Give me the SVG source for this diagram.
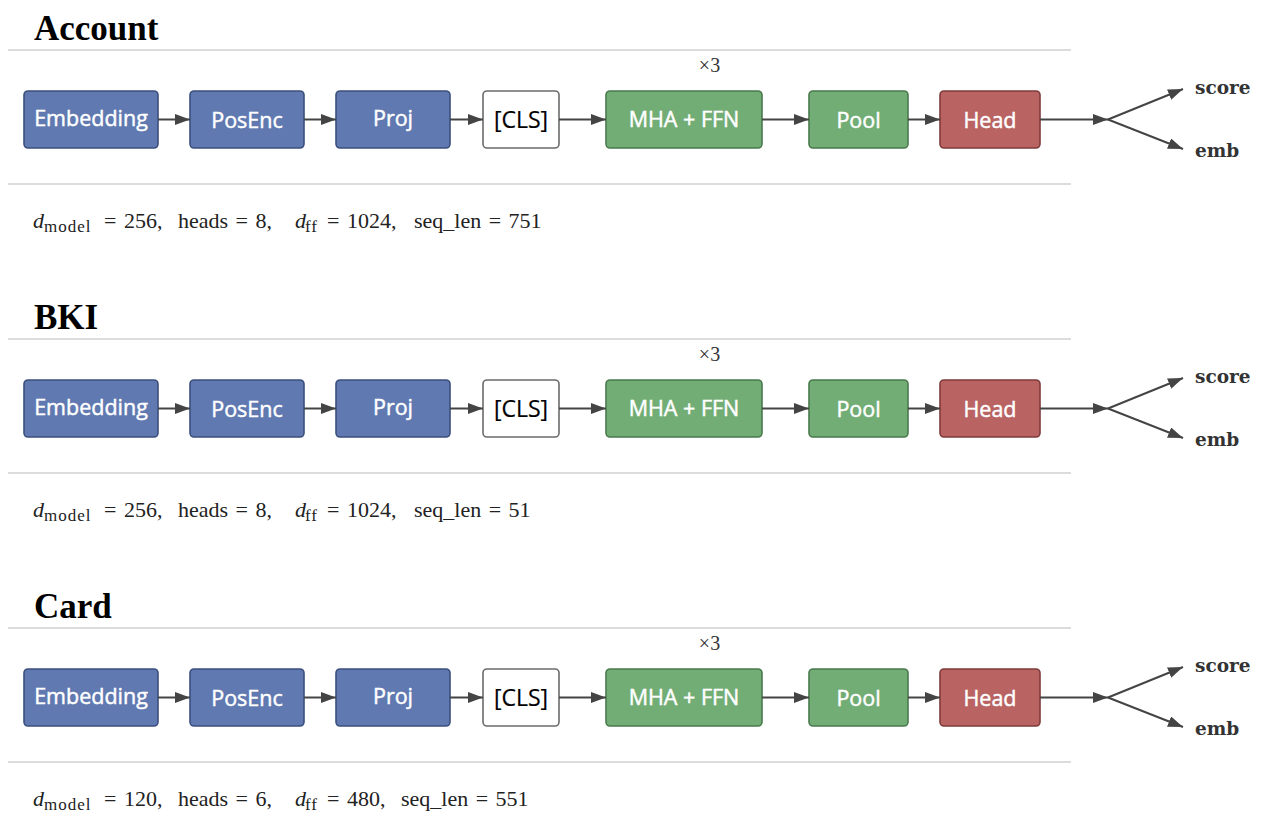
<svg xmlns="http://www.w3.org/2000/svg" width="1268" height="828" viewBox="0 0 1268 828">
<style>
.title{font-family:"Liberation Serif",serif;font-weight:bold;font-size:35px;fill:#000}
.rule{stroke:#dcdcdc;stroke-width:2;fill:none}
.box{stroke-width:1.6}
.blue{fill:#6079b1;stroke:#3b4f7e}
.green{fill:#72ad76;stroke:#4a7a4e}
.red{fill:#b96363;stroke:#7f3b3b}
.white{fill:#fff;stroke:#6b6b6b}
.lbl{font-family:"Open Sans","Noto Sans",sans-serif;font-size:21.5px;fill:#fff;stroke:#fff;stroke-width:0.45px;text-anchor:middle}
.lblk{fill:#000;stroke:#000;stroke-width:0.2px;font-size:23px}
.conn{stroke:#444;stroke-width:2;fill:none;marker-end:url(#ah)}
.out{font-family:"DejaVu Serif",serif;font-weight:bold;font-size:18.5px;fill:#333}
.math{font-family:"Liberation Serif",serif;font-size:22px;fill:#222;word-spacing:2px}
.it{font-style:italic}
.sub{font-size:17px;letter-spacing:1px;word-spacing:0}
.rep{font-family:"Liberation Serif",serif;font-size:20px;fill:#333;text-anchor:middle}
</style>
<defs>
<marker id="ah" viewBox="0 0 15 11" refX="15" refY="5.5" markerWidth="15" markerHeight="11" markerUnits="userSpaceOnUse" orient="auto">
<path d="M0,0 L15,5.5 L0,11 z" fill="#444"/>
</marker>
<g id="section">
<line class="rule" x1="8" y1="50" x2="1071" y2="50"/>
<line class="rule" x1="8" y1="184" x2="1071" y2="184"/>
<text class="rep" x="709.5" y="72">×3</text>
</g>
</defs>

<!-- Section 1: Account -->
<g id="account" transform="translate(0,0)">
<text class="title" x="34" y="40">Account</text>
<use href="#section"/>
<g id="acc-embedding"><rect class="box blue" x="24" y="91" width="134" height="57" rx="4"/><text class="lbl" x="91" y="126">Embedding</text></g>
<g id="acc-posenc"><rect class="box blue" x="190" y="91" width="114" height="57" rx="4"/><text class="lbl" x="247" y="128">PosEnc</text></g>
<g id="acc-proj"><rect class="box blue" x="336" y="91" width="114" height="57" rx="4"/><text class="lbl" x="393" y="126">Proj</text></g>
<g id="acc-cls"><rect class="box white" x="483" y="91" width="76" height="57" rx="4"/><text class="lbl lblk" x="521" y="128">[CLS]</text></g>
<g id="acc-mha"><rect class="box green" x="606" y="91" width="156" height="57" rx="4"/><text class="lbl" x="684" y="127">MHA + FFN</text></g>
<g id="acc-pool"><rect class="box green" x="809" y="91" width="99" height="57" rx="4"/><text class="lbl" x="858.5" y="128">Pool</text></g>
<g id="acc-head"><rect class="box red" x="940" y="91" width="100" height="57" rx="4"/><text class="lbl" x="990" y="128">Head</text></g>
<g id="acc-connectors">
<line class="conn" x1="158" y1="119.5" x2="190" y2="119.5"/>
<line class="conn" x1="304" y1="119.5" x2="336" y2="119.5"/>
<line class="conn" x1="450" y1="119.5" x2="483" y2="119.5"/>
<line class="conn" x1="559" y1="119.5" x2="606" y2="119.5"/>
<line class="conn" x1="762" y1="119.5" x2="809" y2="119.5"/>
<line class="conn" x1="908" y1="119.5" x2="940" y2="119.5"/>
<line class="conn" x1="1040" y1="119.5" x2="1108" y2="119.5"/>
<line class="conn" x1="1108" y1="119.5" x2="1183" y2="89"/>
<line class="conn" x1="1108" y1="119.5" x2="1183" y2="149"/>
</g>
<text class="out" x="1195" y="94">score</text>
<text class="out" x="1195" y="157">emb</text>
<text class="math" y="228"><tspan class="it" x="33">d</tspan><tspan class="sub" x="44" y="232">model</tspan><tspan x="104" y="228">= 256,</tspan><tspan x="178">heads = 8,</tspan><tspan class="it" x="295">d</tspan><tspan class="sub" x="305" y="232">ff</tspan><tspan x="327" y="228">= 1024,</tspan><tspan x="414">seq_len = 751</tspan></text>
</g>

<!-- Section 2: BKI -->
<g id="bki" transform="translate(0,289)">
<text class="title" x="34" y="40">BKI</text>
<use href="#section"/>
<g id="bki-embedding"><rect class="box blue" x="24" y="91" width="134" height="57" rx="4"/><text class="lbl" x="91" y="126">Embedding</text></g>
<g id="bki-posenc"><rect class="box blue" x="190" y="91" width="114" height="57" rx="4"/><text class="lbl" x="247" y="128">PosEnc</text></g>
<g id="bki-proj"><rect class="box blue" x="336" y="91" width="114" height="57" rx="4"/><text class="lbl" x="393" y="126">Proj</text></g>
<g id="bki-cls"><rect class="box white" x="483" y="91" width="76" height="57" rx="4"/><text class="lbl lblk" x="521" y="128">[CLS]</text></g>
<g id="bki-mha"><rect class="box green" x="606" y="91" width="156" height="57" rx="4"/><text class="lbl" x="684" y="127">MHA + FFN</text></g>
<g id="bki-pool"><rect class="box green" x="809" y="91" width="99" height="57" rx="4"/><text class="lbl" x="858.5" y="128">Pool</text></g>
<g id="bki-head"><rect class="box red" x="940" y="91" width="100" height="57" rx="4"/><text class="lbl" x="990" y="128">Head</text></g>
<g id="bki-connectors">
<line class="conn" x1="158" y1="119.5" x2="190" y2="119.5"/>
<line class="conn" x1="304" y1="119.5" x2="336" y2="119.5"/>
<line class="conn" x1="450" y1="119.5" x2="483" y2="119.5"/>
<line class="conn" x1="559" y1="119.5" x2="606" y2="119.5"/>
<line class="conn" x1="762" y1="119.5" x2="809" y2="119.5"/>
<line class="conn" x1="908" y1="119.5" x2="940" y2="119.5"/>
<line class="conn" x1="1040" y1="119.5" x2="1108" y2="119.5"/>
<line class="conn" x1="1108" y1="119.5" x2="1183" y2="89"/>
<line class="conn" x1="1108" y1="119.5" x2="1183" y2="149"/>
</g>
<text class="out" x="1195" y="94">score</text>
<text class="out" x="1195" y="157">emb</text>
<text class="math" y="228"><tspan class="it" x="33">d</tspan><tspan class="sub" x="44" y="232">model</tspan><tspan x="104" y="228">= 256,</tspan><tspan x="178">heads = 8,</tspan><tspan class="it" x="295">d</tspan><tspan class="sub" x="305" y="232">ff</tspan><tspan x="327" y="228">= 1024,</tspan><tspan x="414">seq_len = 51</tspan></text>
</g>

<!-- Section 3: Card -->
<g id="card" transform="translate(0,578)">
<text class="title" x="34" y="40">Card</text>
<use href="#section"/>
<g id="card-embedding"><rect class="box blue" x="24" y="91" width="134" height="57" rx="4"/><text class="lbl" x="91" y="126">Embedding</text></g>
<g id="card-posenc"><rect class="box blue" x="190" y="91" width="114" height="57" rx="4"/><text class="lbl" x="247" y="128">PosEnc</text></g>
<g id="card-proj"><rect class="box blue" x="336" y="91" width="114" height="57" rx="4"/><text class="lbl" x="393" y="126">Proj</text></g>
<g id="card-cls"><rect class="box white" x="483" y="91" width="76" height="57" rx="4"/><text class="lbl lblk" x="521" y="128">[CLS]</text></g>
<g id="card-mha"><rect class="box green" x="606" y="91" width="156" height="57" rx="4"/><text class="lbl" x="684" y="127">MHA + FFN</text></g>
<g id="card-pool"><rect class="box green" x="809" y="91" width="99" height="57" rx="4"/><text class="lbl" x="858.5" y="128">Pool</text></g>
<g id="card-head"><rect class="box red" x="940" y="91" width="100" height="57" rx="4"/><text class="lbl" x="990" y="128">Head</text></g>
<g id="card-connectors">
<line class="conn" x1="158" y1="119.5" x2="190" y2="119.5"/>
<line class="conn" x1="304" y1="119.5" x2="336" y2="119.5"/>
<line class="conn" x1="450" y1="119.5" x2="483" y2="119.5"/>
<line class="conn" x1="559" y1="119.5" x2="606" y2="119.5"/>
<line class="conn" x1="762" y1="119.5" x2="809" y2="119.5"/>
<line class="conn" x1="908" y1="119.5" x2="940" y2="119.5"/>
<line class="conn" x1="1040" y1="119.5" x2="1108" y2="119.5"/>
<line class="conn" x1="1108" y1="119.5" x2="1183" y2="89"/>
<line class="conn" x1="1108" y1="119.5" x2="1183" y2="149"/>
</g>
<text class="out" x="1195" y="94">score</text>
<text class="out" x="1195" y="157">emb</text>
<text class="math" y="228"><tspan class="it" x="33">d</tspan><tspan class="sub" x="44" y="232">model</tspan><tspan x="104" y="228">= 120,</tspan><tspan x="178">heads = 6,</tspan><tspan class="it" x="295">d</tspan><tspan class="sub" x="305" y="232">ff</tspan><tspan x="327" y="228">= 480,</tspan><tspan x="401">seq_len = 551</tspan></text>
</g>
</svg>
